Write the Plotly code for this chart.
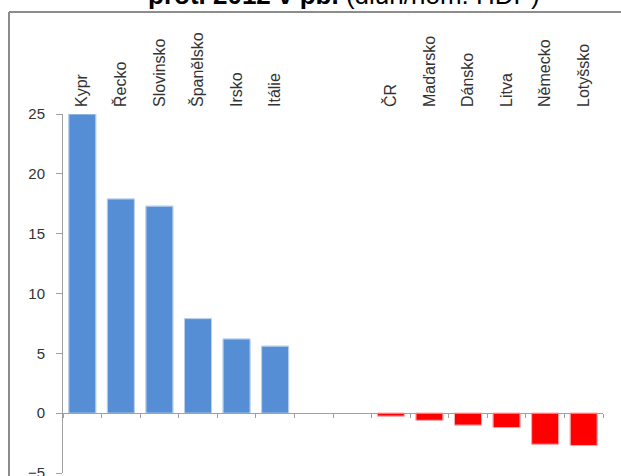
import plotly.graph_objects as go

# Data
categories = ["Kypr", "Řecko", "Slovinsko", "Španělsko", "Irsko", "Itálie",
              " ", "  ", "ČR", "Maďarsko", "Dánsko", "Litva", "Německo", "Lotyšsko"]
values = [25.0, 17.9, 17.3, 7.9, 6.2, 5.6,
          None, None, -0.25, -0.6, -1.0, -1.2, -2.6, -2.7]
y_ticks = [-5, 0, 5, 10, 15, 20, 25]
title_bold = "proti 2012 v pb."
title_rest = " (dluh/nom. HDP)"

W, H = 621, 476
ML, MR, MT, MB = 63, 18, 114, 3
PW, PH = W - ML - MR, H - MT - MB

def px_x(px):
    return (px - ML) / PW

def px_y(py):
    return (H - MB - py) / PH

BLUE = "#558ED5"
BLUE_EDGE = "#8DB3E2"
RED = "#FF0000"
RED_EDGE = "#FF6F6F"

colors = [BLUE if (v is not None and v >= 0) else RED for v in values]
edges = [BLUE_EDGE if (v is not None and v >= 0) else RED_EDGE for v in values]

fig = go.Figure()
fig.add_trace(go.Bar(
    x=categories, y=values, xaxis="x", yaxis="y",
    marker=dict(color=colors, line=dict(color=edges, width=1)),
    hoverinfo="x+y", showlegend=False,
))
# transparent copy so the top axis carries the category labels
fig.add_trace(go.Bar(
    x=categories, y=values, xaxis="x2", yaxis="y",
    marker=dict(color="rgba(0,0,0,0)"), hoverinfo="skip", showlegend=False,
))

lo, hi = y_ticks[0], y_ticks[-1]
zero_pos = (0 - lo) / (hi - lo)

fig.update_layout(
    width=W, height=H,
    margin=dict(l=ML, r=MR, t=MT, b=MB),
    paper_bgcolor="white", plot_bgcolor="white",
    bargap=0.3, barmode="overlay",
    font=dict(family="Liberation Sans, Arial, sans-serif", color="#333333"),
    xaxis=dict(
        type="category", categoryorder="array", categoryarray=categories,
        range=[-0.5, len(categories) - 0.5],
        anchor="free", position=zero_pos, automargin=False,
        showline=True, linecolor="#A0A0A0", linewidth=1,
        ticks="outside", tickson="boundaries", ticklen=4, tickcolor="#A0A0A0",
        showticklabels=False, showgrid=False, zeroline=False,
    ),
    xaxis2=dict(
        type="category", categoryorder="array", categoryarray=categories,
        range=[-0.5, len(categories) - 0.5],
        overlaying="x", side="top", anchor="y", automargin=False,
        showline=False, ticks="", showgrid=False, zeroline=False,
        tickangle=-90, ticklabelstandoff=6,
        tickfont=dict(size=16, color="#333333"),
    ),
    yaxis=dict(
        range=[lo, hi], tickvals=y_ticks, automargin=False,
        showline=True, linecolor="#A0A0A0", linewidth=1,
        ticks="outside", ticklen=6, tickcolor="#A0A0A0",
        showgrid=False, zeroline=False,
        tickfont=dict(size=15, color="#333333"),
        ticklabelstandoff=8, ticklabeloverflow="allow",
    ),
    shapes=[
        dict(type="line", xref="paper", yref="paper",
             x0=px_x(9), x1=px_x(9), y0=px_y(H + 5), y1=px_y(12),
             line=dict(color="#8C8C8C", width=2)),
        dict(type="line", xref="paper", yref="paper",
             x0=px_x(9), x1=px_x(W + 5), y0=px_y(12), y1=px_y(12),
             line=dict(color="#8C8C8C", width=2)),
    ],
    annotations=[
        dict(xref="paper", yref="paper", x=px_x(344), y=px_y(12),
             xanchor="center", yanchor="bottom", showarrow=False,
             text="<b>" + title_bold + "</b>" + title_rest,
             font=dict(size=26, color="black")),
    ],
)

fig.write_html("out.html")
